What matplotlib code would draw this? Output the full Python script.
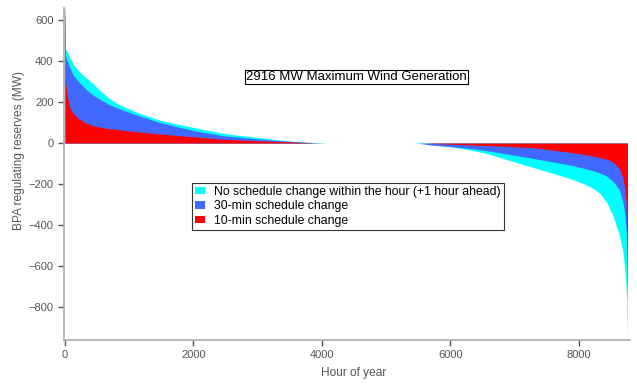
import numpy as np
import matplotlib
matplotlib.use('Agg')
import matplotlib.pyplot as plt

plt.rcParams['font.family'] = ['Liberation Sans', 'DejaVu Sans']

# duration curves (hour of year, MW)
hours_cyan = [0, 4, 8, 26, 125, 233, 337, 436, 545, 700, 830, 964, 1200, 1478, 1700, 1945,
              2200, 2460, 2700, 2990, 3250, 3500, 3700, 3900, 4100,
              5400, 5700, 6000, 6304, 6561, 6818, 7074, 7345, 7600, 7858, 8070, 8227, 8330,
              8430, 8530, 8636, 8690, 8714, 8740, 8750, 8760]
res_cyan = [660, 660, 458, 450, 385, 345, 315, 290, 257, 215, 190, 171, 140, 112, 95, 80,
            63, 48, 38, 28, 18, 10, 5, 2, 0,
            0, -6, -18, -34, -50, -75, -99, -124, -148, -172, -197, -221, -245,
            -286, -351, -450, -530, -604, -700, -766, -950]

hours_blue = [0, 4, 8, 26, 125, 233, 337, 436, 545, 700, 964, 1220, 1478, 1790, 2100,
              2460, 2990, 3500, 3800, 4050,
              5500, 5700, 6000, 6304, 6561, 6818, 7074, 7345, 7600, 7858, 8070, 8278, 8400,
              8480, 8560, 8636, 8690, 8720, 8743, 8752, 8760]
res_blue = [650, 650, 430, 405, 332, 292, 259, 234, 213, 185, 153, 126, 100, 76, 55,
            36, 20, 8, 3, 0,
            0, -10, -17, -26, -37, -50, -63, -78, -92, -107, -122, -140, -155,
            -172, -195, -229, -290, -350, -440, -560, -760]

hours_red = [0, 4, 8, 20, 47, 80, 125, 200, 280, 400, 545, 700, 964, 1220, 1478, 1790,
             2100, 2460, 2990, 3500, 3900,
             5600, 5800, 6304, 6818, 7345, 7858, 8070, 8278, 8480, 8560, 8636, 8690, 8714,
             8740, 8752, 8760]
res_red = [620, 620, 300, 265, 210, 170, 146, 122, 105, 88, 77, 70, 60, 52, 44, 36,
           28, 18, 11, 6, 0,
           0, -3, -9, -15, -24, -45, -55, -67, -83, -100, -125, -170, -215,
           -290, -450, -668]

labels = ['No schedule change within the hour (+1 hour ahead)',
          '30-min schedule change',
          '10-min schedule change']
colors = ['#00FFFF', '#4169FF', '#FF0000']

fig = plt.figure(figsize=(6.37, 3.85), dpi=100)
ax = fig.add_axes([0.1005, 0.117, 0.888, 0.862])

ax.fill_between(hours_cyan, res_cyan, 0, color=colors[0], lw=0, label=labels[0])
ax.fill_between(hours_blue, res_blue, 0, color=colors[1], lw=0, label=labels[1])
ax.fill_between(hours_red, res_red, 0, color=colors[2], lw=0, label=labels[2])

ax.set_xlim(-15, 8795)
ax.set_ylim(-960, 658)
ax.set_xticks(np.arange(0, 8001, 2000))
ax.set_yticks(np.arange(-800, 601, 200))

for s in ['top', 'right']:
    ax.spines[s].set_visible(False)
for s in ['left', 'bottom']:
    ax.spines[s].set_color('#aaaaaa')
    ax.spines[s].set_linewidth(1.2)
ax.tick_params(colors='#555555', labelsize=8, length=4, width=1)

ax.set_xlabel('Hour of year', fontsize=8.6, color='#555555')
ax.set_ylabel('BPA regulating reserves (MW)', fontsize=8.6, color='#555555')
ax.xaxis.set_label_coords(0.512, -0.08)
ax.yaxis.set_label_coords(-0.069, 0.57)

ax.text(0.517, 0.792, '2916 MW Maximum Wind Generation', transform=ax.transAxes,
        ha='center', va='center', fontsize=9.5,
        bbox=dict(boxstyle='square,pad=0.1', fc='white', ec='black', lw=0.8))

leg = ax.legend(loc='upper left', bbox_to_anchor=(0.226, 0.473), fontsize=8.8,
                frameon=True, fancybox=False, shadow=False, handlelength=0.8,
                handleheight=0.55, handletextpad=0.8, labelspacing=0.2,
                borderpad=0.25, borderaxespad=0)
leg.get_frame().set_edgecolor('black')
leg.get_frame().set_linewidth(0.8)

fig.savefig('out.png', dpi=100)
